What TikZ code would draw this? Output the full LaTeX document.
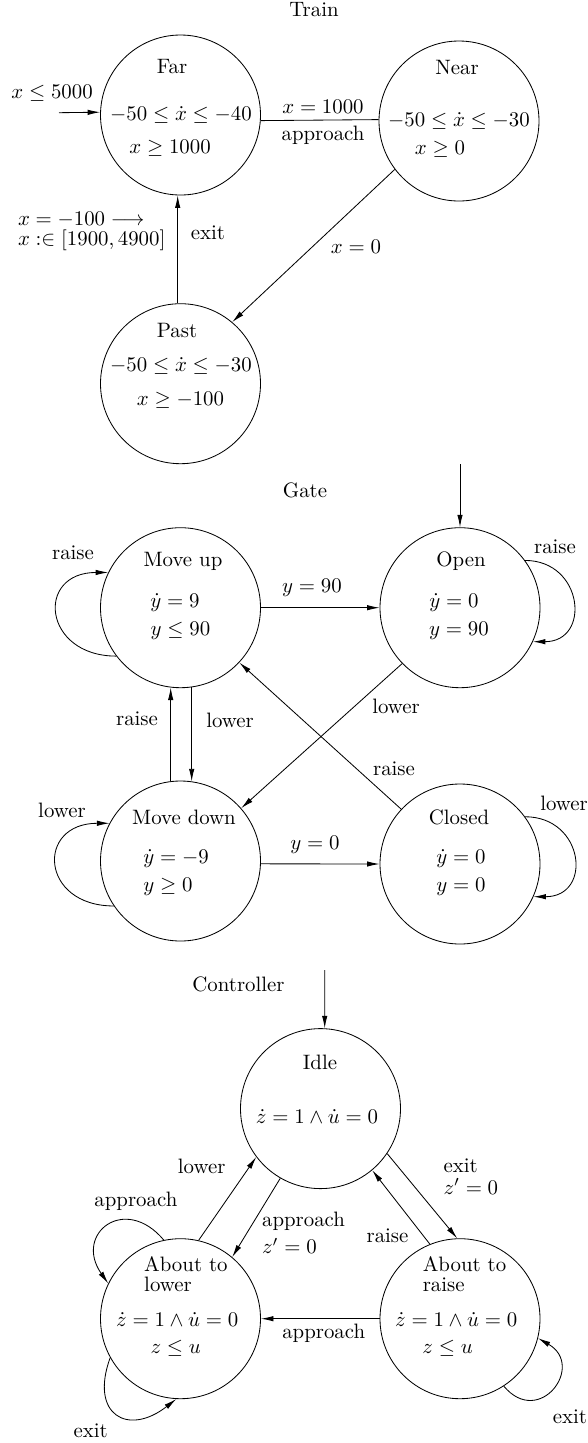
\documentclass[tikz,border=0pt]{standalone}
\usepackage{amsmath,amssymb}
\usetikzlibrary{arrows.meta}

\begin{document}
\begin{tikzpicture}[x=0.48pt,y=0.48pt,>={Latex[length=6pt,width=2.6pt]},
    state/.style={draw,circle,minimum size=76.8pt,inner sep=0pt},
    lbl/.style={inner sep=0pt}]
    \useasboundingbox (0,0) rectangle (588,-1443);

    % TRAIN
    \node[lbl] (traintitle) at (314,-10) {Train};
    \node[state] (far) at (180.5,-115) {};
    \node[state] (near) at (459,-121) {};
    \node[state] (past) at (180.5,-383.7) {};
    \node[lbl] (farname) at (172,-67) {Far};
    \node[lbl] (farflow) at (181,-115) {$-50\leq\dot x\leq -40$};
    \node[lbl] (farinv) at (170,-148) {$x\geq 1000$};
    \node[lbl] (nearname) at (457,-67) {Near};
    \node[lbl] (nearflow) at (459,-121) {$-50\leq\dot x\leq -30$};
    \node[lbl] (nearinv) at (440,-149) {$x\geq 0$};
    \node[lbl] (pastname) at (177,-330) {Past};
    \node[lbl] (pastflow) at (181,-366) {$-50\leq\dot x\leq -30$};
    \node[lbl] (pastinv) at (180.5,-400) {$x\geq -100$};

    \coordinate (farinit) at (59,-112.7);
    \draw[->] (farinit) -- (far.178);
    \node[lbl] (farinitlbl) at (52,-93) {$x\leq 5000$};
    \draw (far.-4) -- (near.179);
    \node[lbl] (fnguard) at (323,-107) {$x=1000$};
    \node[lbl] (fnevent) at (323,-135) {approach};
    \draw[->] (near.217) -- (past.50);
    \node[lbl] (npguard) at (356,-246.7) {$x=0$};
    \draw[->] (past.92) -- (far.268);
    \node[lbl] (pfevent) at (208,-233) {exit};
    \node[lbl,anchor=west] (pfguard) at (17.6,-220) {$x=-100\longrightarrow$};
    \node[lbl,anchor=west] (pfreset) at (17.6,-240) {$x:\in[1900,4900]$};

    % GATE
    \node[lbl] (gatetitle) at (305,-490) {Gate};
    \node[state] (moveup) at (180.5,-607.7) {};
    \node[state] (open) at (460,-607.7) {};
    \node[state] (movedown) at (180.5,-861) {};
    \node[state] (closed) at (460,-864) {};
    \node[lbl] (moveupname) at (183,-561) {Move up};
    \node[lbl] (moveupflow) at (175,-603) {$\dot y=9$};
    \node[lbl] (moveupinv) at (180.5,-631) {$y\leq 90$};
    \node[lbl] (openname) at (461,-561) {Open};
    \node[lbl] (openflow) at (454,-603) {$\dot y=0$};
    \node[lbl] (openinv) at (459,-631) {$y=90$};
    \node[lbl] (movedownname) at (184,-817) {Move down};
    \node[lbl] (movedownflow) at (176,-859) {$\dot y=-9$};
    \node[lbl] (movedowninv) at (168,-887) {$y\geq 0$};
    \node[lbl] (closedname) at (459,-817) {Closed};
    \node[lbl] (closedflow) at (461,-859) {$\dot y=0$};
    \node[lbl] (closedinv) at (461,-887) {$y=0$};

    \coordinate (openinit) at (460,-464);
    \draw[->] (openinit) -- (open.north);
    \draw[->] (moveup.east) -- (open.west);
    \node[lbl] (muoguard) at (312,-588) {$y=90$};
    \draw[->] (moveup.217) to[out=180,in=180,looseness=2.23] (moveup.154);
    \node[lbl] (muloop) at (73,-553) {raise};
    \draw[->] (open.36) to[out=0,in=0,looseness=1.83] (open.-25);
    \node[lbl] (oloop) at (555,-547) {raise};
    \draw[->] (movedown.97) -- (moveup.263);
    \node[lbl] (mdmuevent) at (137,-719) {raise};
    \draw[->] (moveup.278) -- (movedown.82);
    \node[lbl] (mumdevent) at (230,-720) {lower};
    \draw[->] (open.224) -- (movedown.41);
    \node[lbl] (omdevent) at (396,-706) {lower};
    \draw[->] (closed.137) -- (moveup.-43);
    \node[lbl] (cmuevent) at (394,-769) {raise};
    \draw[->] (movedown.-2) -- (closed.west);
    \node[lbl] (mdcguard) at (315,-845) {$y=0$};
    \draw[->] (movedown.214) to[out=180,in=180,looseness=2.28] (movedown.152);
    \node[lbl] (mdloop) at (62,-810) {lower};
    \draw[->] (closed.36) to[out=0,in=0,looseness=1.89] (closed.-24);
    \node[lbl] (cloop) at (564,-803) {lower};

    % CONTROLLER
    \node[lbl] (ctrltitle) at (238.5,-984) {Controller};
    \node[state] (idle) at (320.5,-1108.6) {};
    \node[state] (tolower) at (180.5,-1318.7) {};
    \node[state] (toraise) at (460,-1318.7) {};
    \node[lbl] (idlename) at (320,-1062) {Idle};
    \node[lbl] (idleflow) at (317,-1117) {$\dot z=1\wedge\dot u=0$};
    \node[lbl,anchor=west] (tolowername) at (143.8,-1264) {About to};
    \node[lbl,anchor=west] (tolowernameb) at (143.8,-1284.7) {lower};
    \node[lbl] (tolowerflow) at (177.2,-1319.6) {$\dot z=1\wedge\dot u=0$};
    \node[lbl] (tolowerinv) at (175.7,-1348.3) {$z\leq u$};
    \node[lbl,anchor=west] (toraisename) at (422.4,-1264) {About to};
    \node[lbl,anchor=west] (toraisenameb) at (422.4,-1284.7) {raise};
    \node[lbl] (toraiseflow) at (456.2,-1319.6) {$\dot z=1\wedge\dot u=0$};
    \node[lbl] (toraiseinv) at (447.6,-1348.3) {$z\leq u$};

    \coordinate (idleinit) at (324.8,-970);
    \draw[->] (idleinit) -- (idle.87);
    \draw[->] (tolower.77) -- (idle.217);
    \node[lbl] (tlievent) at (201.7,-1166) {lower};
    \draw[->] (idle.240) -- (tolower.50);
    \node[lbl,anchor=west] (itlevent) at (261.7,-1221.7) {approach};
    \node[lbl,anchor=west] (itlreset) at (261.7,-1245.8) {$z'=0$};
    \draw[->] (idle.-34) -- (toraise.92);
    \node[lbl,anchor=west] (itrevent) at (443.1,-1166) {exit};
    \node[lbl,anchor=west] (itrreset) at (443.1,-1186.5) {$z'=0$};
    \draw[->] (toraise.112) -- (idle.-50);
    \node[lbl] (trievent) at (387.5,-1236) {raise};
    \draw[->] (toraise.west) -- (tolower.east);
    \node[lbl] (trtlevent) at (323.7,-1333) {approach};
    \draw[->] (tolower.102) to[out=130,in=125,looseness=2.2] (tolower.154);
    \node[lbl] (tlloopa) at (135.9,-1201) {approach};
    \draw[->] (tolower.209) to[out=250,in=218,looseness=2] (tolower.267);
    \node[lbl] (tlloopb) at (90.7,-1431) {exit};
    \draw[->] (toraise.303) to[out=310,in=330,looseness=2.4] (toraise.346);
    \node[lbl] (trloop) at (570,-1417) {exit};
\end{tikzpicture}
\end{document}
